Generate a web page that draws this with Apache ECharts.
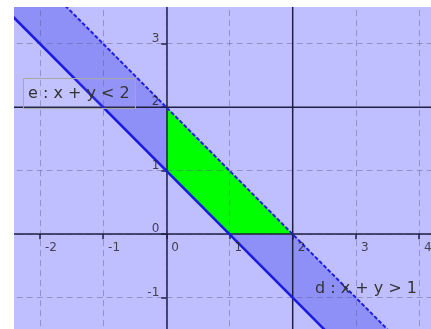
<!DOCTYPE html>
<html><head><meta charset="utf-8">
<script src="https://cdn.jsdelivr.net/npm/echarts@6/dist/echarts.min.js"></script>
<style>html,body{margin:0;padding:0;background:#fff}#c{width:431px;height:329px}</style>
</head><body><div id="c"></div>
<script>
// Data
const xTickValues = [-2,-1,0,1,2,3,4];
const xTickLabels = ['-2','-1','0','1','2','3','4'];
const yTickValues = [-1,0,1,2,3];
const yTickLabels = ['-1','0','1','2','3'];
const lineD = [[-3,4],[3,-2]];          // d : x + y = 1 (boundary, solid)
const lineE = [[-2,4],[4,-2]];          // e : x + y = 2 (boundary, dashed)
const bandPts = [[-3,4],[-2,4],[4,-2],[3,-2]];   // 1 < x + y < 2
const greenPts = [[0,1],[0,2],[2,0],[1,0]];      // x>=0, y>=0, 1<x+y<2
const vLine = [[2,-2],[2,4]];           // x = 2
const hLine = [[-3,2],[5,2]];           // y = 2
const labelE = 'e : x + y < 2';
const labelD = 'd : x + y > 1';

const axisColor = '#1f1f45';
const gridColor = 'rgba(90,90,130,0.45)';
const font = '"DejaVu Sans", sans-serif';

function polySeries(pts, color, z){
  return {type:'custom', z:z, silent:true, clip:true, data:[[0,0]],
    renderItem:function(params, api){
      return {type:'polygon', shape:{points: pts.map(function(p){return api.coord(p);})}, style:{fill:color}};
    }};
}
function lineSeries(pts, color, width, type, z){
  return {type:'line', z:z, silent:true, data:pts, showSymbol:false, symbol:'none',
    lineStyle:{color:color, width:width, type:type}, clip:true, animation:false};
}
function tickLabelSeries(points, labels, pos, align, vAlign){
  return {type:'scatter', z:6, silent:true, symbolSize:0, clip:false, data:points,
    label:{show:true, position:pos, align:align, verticalAlign:vAlign, color:'#222', fontSize:12, fontFamily:font,
      formatter:function(p){ return labels[p.dataIndex]; }}};
}

const chart = echarts.init(document.getElementById('c'), null, {renderer:'canvas'});
chart.setOption({
  animation:false,
  grid:{left:-23.3, top:-19.8, width:505.6, height:381, show:true, backgroundColor:'#bfbfff', borderWidth:0,
    containLabel:false, outerBoundsMode:'none'},
  xAxis:{type:'value', min:-3, max:5, interval:1, z:3,
    axisLine:{onZero:true, lineStyle:{color:axisColor, width:1.5}},
    axisTick:{show:true, length:5, lineStyle:{color:axisColor, width:1.5}},
    axisLabel:{show:false},
    splitLine:{show:true, lineStyle:{color:gridColor, width:1, type:[6,4]}}
  },
  yAxis:{type:'value', min:-2, max:4, interval:1, z:3,
    axisLine:{onZero:true, lineStyle:{color:axisColor, width:1.5}},
    axisTick:{show:true, length:5, lineStyle:{color:axisColor, width:1.5}},
    axisLabel:{show:false},
    splitLine:{show:true, lineStyle:{color:gridColor, width:1, type:[6,4]}}
  },
  series:[
    polySeries(bandPts, '#8f8ff8', 1),
    polySeries(greenPts, '#00ff00', 1.5),
    lineSeries(vLine, axisColor, 1.5, 'solid', 4),
    lineSeries(hLine, axisColor, 1.5, 'solid', 4),
    lineSeries(lineD, '#1a1ae0', 2.5, 'solid', 5),
    lineSeries(lineE, '#1e1ee6', 2, [4,2], 5),
    tickLabelSeries(xTickValues.map(function(v){return [v,0];}), xTickLabels, [5,8], 'left', 'top'),
    tickLabelSeries(yTickValues.map(function(v){return [0,v];}), yTickLabels, [-7,1], 'right', 'bottom')
  ],
  graphic:[
    {type:'rect', z:100, shape:{x:0,y:0,width:14,height:329}, style:{fill:'#fff'}},
    {type:'rect', z:100, shape:{x:0,y:0,width:431,height:7}, style:{fill:'#fff'}},
    {type:'rect', z:50, shape:{x:23.5,y:78.5,width:112,height:30}, style:{fill:'rgba(255,255,255,0.05)', stroke:'#a8a8a8', lineWidth:1}},
    {type:'text', z:51, x:28, y:94, style:{text:labelE, font:'16px ' + font, fill:'#333', verticalAlign:'middle'}},
    {type:'text', z:51, x:315, y:289, style:{text:labelD, font:'16px ' + font, fill:'#333', verticalAlign:'middle'}}
  ]
});
</script></body></html>
